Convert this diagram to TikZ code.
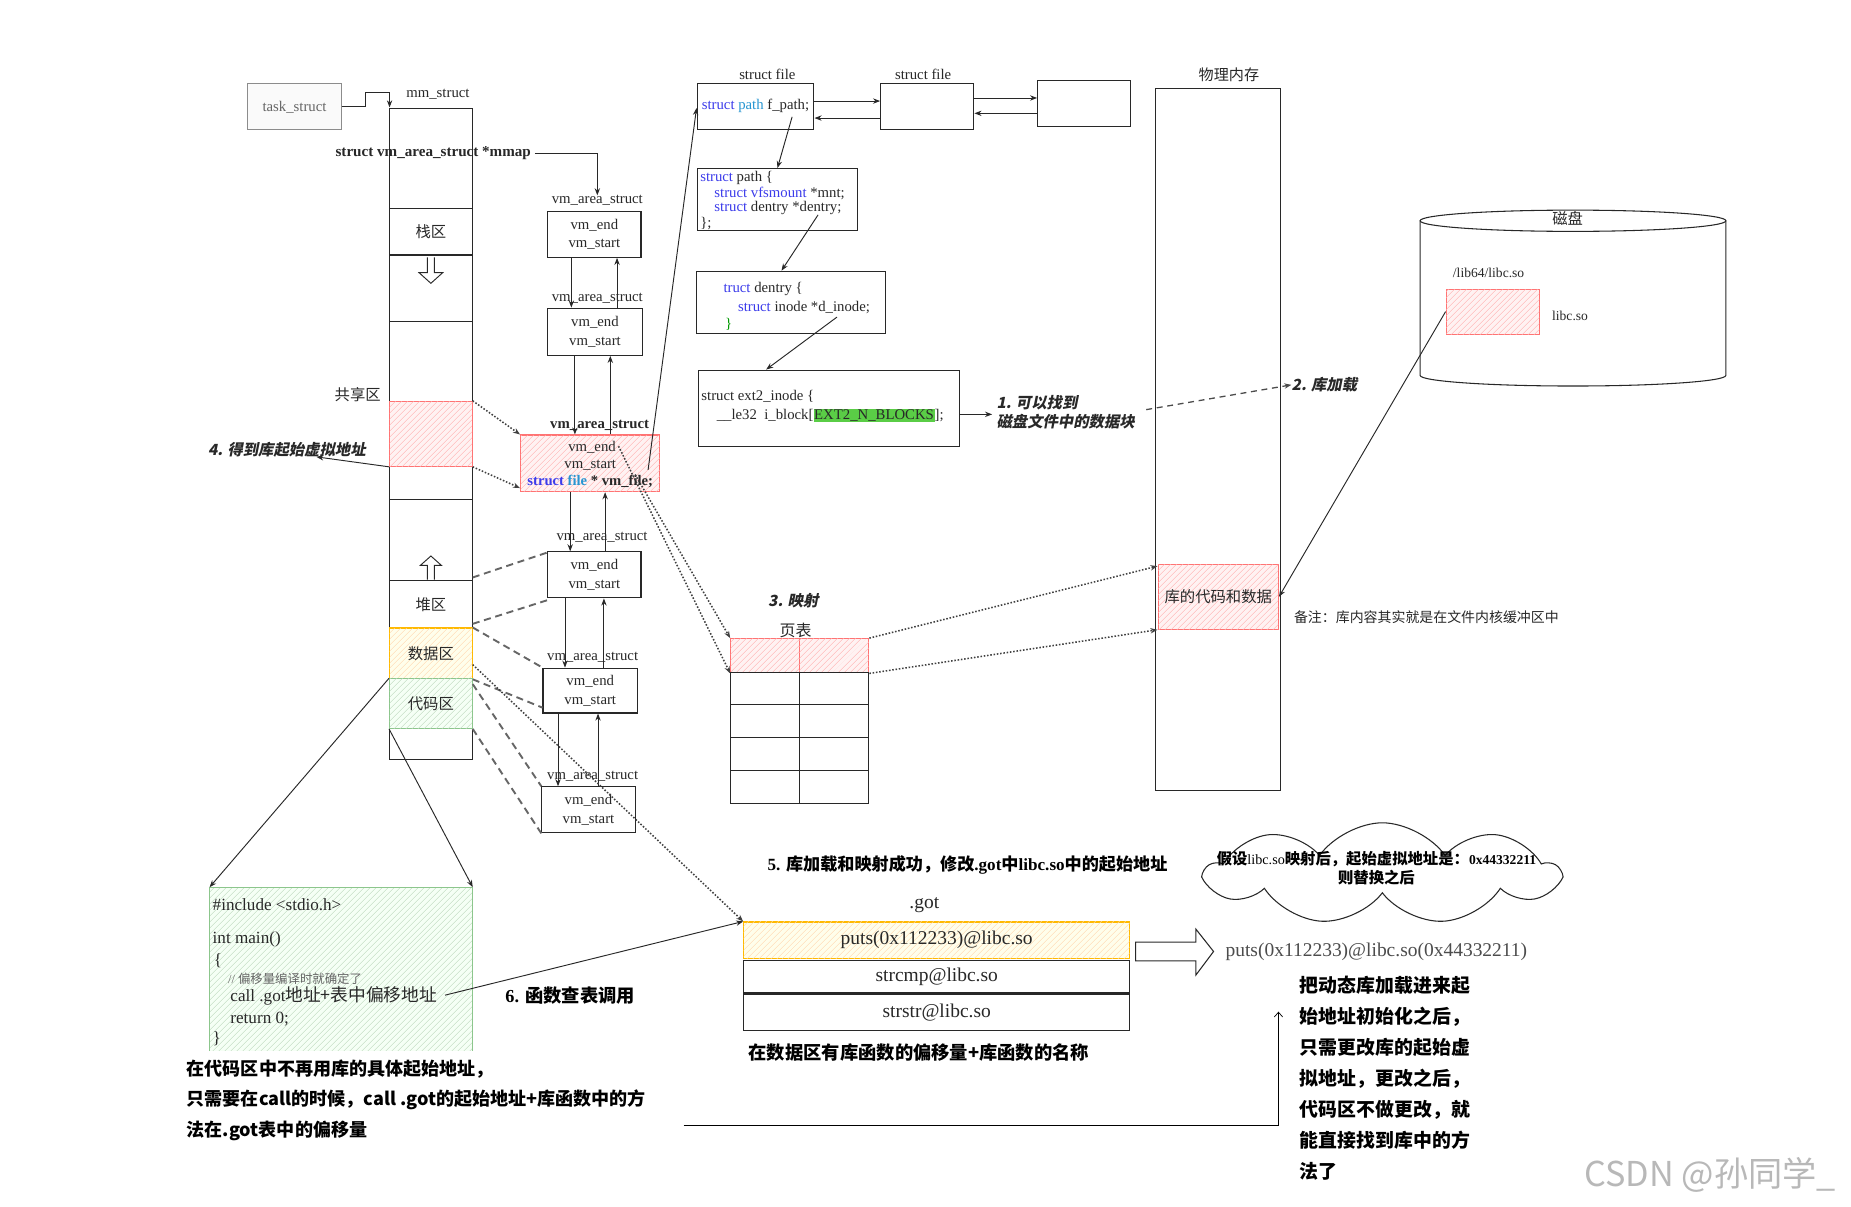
\documentclass[tikz,border=0pt]{standalone}
\usepackage{fontspec}
\setmainfont{Liberation Serif}
\newfontfamily\cjk{Noto Sans CJK SC}
\newfontfamily\cjksl{Noto Sans CJK SC}[FakeSlant=0.2]
\usetikzlibrary{arrows.meta,patterns.meta,shapes.symbols}
\definecolor{kw}{RGB}{60,60,235}
\definecolor{ty}{RGB}{40,150,210}
\definecolor{hl}{RGB}{90,205,70}
\definecolor{ink}{RGB}{40,40,40}
\newcommand\hlbox[1]{{\setlength{\fboxsep}{0.6pt}\colorbox{hl}{#1}}}
\begin{document}
\begin{tikzpicture}[x=1pt,y=-1pt,
 bx/.style={draw=ink, line width=0.9pt, inner sep=0pt},
 sr/.style={font=\fontsize{12.5}{15}\selectfont, text=ink, inner sep=0pt},
 vmt/.style={font=\fontsize{12.5}{16}\selectfont, text=ink, align=center},
 cj/.style={font=\cjk\fontsize{13}{15}\selectfont, text=ink, inner sep=0pt},
 bcj/.style={font=\cjk\bfseries\fontsize{15.3}{26}\selectfont, text=black, inner sep=0pt, align=left},
 slb/.style={font=\cjksl\bfseries\fontsize{13}{16}\selectfont, text=ink, inner sep=0pt, align=left},
 arr/.style={draw=ink, line width=0.8pt, -{Stealth[length=6pt,width=4.5pt]}},
 dsh/.style={draw=black!60, line width=1.6pt, dash pattern=on 6pt off 4pt},
 dtt/.style={draw=black!75, line width=1.3pt, dash pattern=on 1.3pt off 1.5pt},
 redh/.style={draw=red!55, line width=0.9pt, fill=red!5, postaction={pattern={Lines[angle=45,distance=4pt,line width=0.5pt]}, pattern color=red!30}},
 yelh/.style={draw=orange!55!yellow, line width=0.9pt, fill=yellow!8, postaction={pattern={Lines[angle=45,distance=4pt,line width=0.5pt]}, pattern color=orange!30}},
 grnh/.style={draw=green!50!black!45, line width=0.9pt, fill=green!4, postaction={pattern={Lines[angle=45,distance=4pt,line width=0.5pt]}, pattern color=green!40!black!25}},
]
\useasboundingbox (0,0) rectangle (1568,1022);
\fill[white] (0,0) rectangle (1568,1022);

% ---------- task_struct / mm_struct column ----------
\node[bx, draw=black!45, fill=black!2, minimum width=79pt, minimum height=39pt, font=\fontsize{12.5}{15}\selectfont, text=black!60] (task) at (249.5,90.5) {task\_struct};
\node[bx, minimum width=70pt, minimum height=551pt] (col) at (365,367.5) {};
\coordinate (mmtop) at (330,91);
\coordinate (mmbend) at (330,78);
\draw[arr] (task.east) -- ++(20,0) |- (mmbend) -- (mmtop);
\node[sr] (mml) at (371,80) {mm\_struct};
\foreach \yy in {177,216,272,423} \draw[draw=ink, line width=0.9pt] (330,\yy) -- (400,\yy);
\node[bx, minimum width=70pt, minimum height=39pt, cj] (stack) at (365,196.5) {栈区};
\node[bx, redh, minimum width=70pt, minimum height=55pt] (shared) at (365,367.5) {};
\node[bx, minimum width=70pt, minimum height=40pt, cj] (heap) at (365,512) {堆区};
\node[bx, yelh, minimum width=70pt, minimum height=43pt, cj] (data) at (365,553.5) {数据区};
\node[bx, grnh, minimum width=70pt, minimum height=42pt, cj] (code) at (365,596) {代码区};
\draw[draw=ink, line width=0.8pt] (362,218) -- (362,231) -- (355,231) -- (365,240) -- (375,231) -- (368,231) -- (368,218);
\draw[draw=ink, line width=0.8pt] (362,491) -- (362,479) -- (356,479) -- (365,471) -- (374,479) -- (368,479) -- (368,491);
\node[cj] (gx) at (303,334) {共享区};
\node[font=\bfseries\fontsize{12.8}{15}\selectfont, text=ink, inner sep=0pt] (mmap) at (367,130) {struct vm\_area\_struct *mmap};

% ---------- vm_area_struct chain ----------
\node[sr] (lv1) at (506,170) {vm\_area\_struct};
\node[bx, minimum width=79pt, minimum height=39pt, vmt] (vm1) at (503.5,198.5) {vm\_end\\vm\_start};
\node[sr] (lv2) at (506,253) {vm\_area\_struct};
\node[bx, minimum width=80pt, minimum height=40pt, vmt] (vm2) at (504,281) {vm\_end\\vm\_start};
\node[sr, font=\bfseries\fontsize{12.5}{15}\selectfont] (lv3) at (508,360) {vm\_area\_struct};
\node[bx, redh, minimum width=118pt, minimum height=48pt] (vm3) at (500,392.5) {};
\node[sr] (v3a) at (501.5,379) {vm\_end};
\node[sr] (v3b) at (500,394) {vm\_start};
\node[sr, font=\bfseries\fontsize{12.4}{15}\selectfont] (v3c) at (500,408) {{\color{kw}struct} {\color{ty}file} * vm\_file;};
\node[sr] (lv4) at (510,455) {vm\_area\_struct};
\node[bx, minimum width=79pt, minimum height=39pt, vmt] (vm4) at (503.5,487) {vm\_end\\vm\_start};
\node[sr] (lv5) at (502,557) {vm\_area\_struct};
\node[bx, minimum width=80pt, minimum height=38pt, vmt] (vm5) at (500,585) {vm\_end\\vm\_start};
\node[sr] (lv6) at (502,658) {vm\_area\_struct};
\node[bx, minimum width=79pt, minimum height=39pt, vmt] (vm6) at (498.5,686) {vm\_end\\vm\_start};

\coordinate (mmapA) at (453,130);
\draw[arr] (mmapA) -| (lv1.north);
\draw[arr] ([xshift=-19.5pt]vm1.south) -- ([xshift=-20pt]vm2.north);
\draw[arr] ([xshift=18.7pt]vm2.north) -- ([xshift=19.2pt]vm1.south);
\draw[arr] ([xshift=-17pt]vm2.south) -- ([xshift=-13pt]vm3.north);
\draw[arr] ([xshift=17pt]vm3.north) -- ([xshift=13pt]vm2.south);
\draw[arr] ([xshift=-17pt]vm3.south) -- ([xshift=-20.5pt]vm4.north);
\draw[arr] ([xshift=9.1pt]vm4.north) -- ([xshift=12.6pt]vm3.south);
\draw[arr] ([xshift=-24.9pt]vm4.south) -- ([xshift=-21.4pt]vm5.north);
\draw[arr] ([xshift=11.6pt]vm5.north) -- ([xshift=8.1pt]vm4.south);
\draw[arr] ([xshift=-27.3pt]vm5.south) -- ([xshift=-25.8pt]vm6.north);
\draw[arr] ([xshift=8.1pt]vm6.north) -- ([xshift=6.6pt]vm5.south);

% column -> vm areas
\draw[dtt, -{Stealth[length=6pt,width=4.5pt]}] (shared.north east) -- (vm3.north west);
\draw[dtt, -{Stealth[length=6pt,width=4.5pt]}] (shared.south east) -- ([yshift=3.5pt]vm3.south west);
\draw[dsh] ([yshift=2.4pt]heap.north east) -- ([yshift=-1pt]vm4.north west);
\draw[dsh] ([yshift=4pt]heap.south east) -- ([yshift=-1.5pt]vm4.south west);
\draw[dsh] (data.north east) -- (vm5.north west);
\draw[dsh] (data.south east) -- ([yshift=5pt]vm5.south west);
\draw[dsh] ([yshift=-5pt]code.north east) -- (vm6.north west);
\draw[dsh] (code.south east) -- (vm6.south west);

% 4.
\node[slb] (t4) at (243,381) {4. 得到库起始虚拟地址};
\coordinate (t4end) at (268,387);
\draw[arr] (shared.south west) -- (t4end);

% ---------- struct file chain ----------
\node[sr] (lsf1) at (650,63) {struct file};
\node[bx, minimum width=99pt, minimum height=39pt, font=\fontsize{12.5}{15}\selectfont, text=ink] (sf1) at (640,90) {{\color{kw}struct} {\color{ty}path} f\_path;};
\node[sr] (lsf2) at (782,63) {struct file};
\node[bx, minimum width=79pt, minimum height=39pt] (sf2) at (785.5,90) {};
\node[bx, minimum width=79pt, minimum height=39pt] (sf3) at (918.5,87.5) {};
\draw[arr] ([yshift=4.4pt]sf1.east) -- ([yshift=4.4pt]sf2.west);
\draw[arr] ([yshift=-10pt]sf2.west) -- ([yshift=-10pt]sf1.east);
\draw[arr] ([yshift=7pt]sf2.east) -- ([yshift=4.5pt]sf3.west);
\draw[arr] ([yshift=-8.5pt]sf3.west) -- ([yshift=-6pt]sf2.east);
\coordinate (vf) at (549,398);
\draw[arr] (vf) -- ([yshift=-1.5pt]sf1.west);

\node[bx, minimum width=136pt, minimum height=52.5pt] (sp) at (658.6,169) {};
\node[sr, anchor=west] (sp1) at (593,151) {{\color{kw}struct} path \{};
\node[sr, anchor=west] (sp2) at (605,163.6) {{\color{kw}struct vfsmount} *mnt;};
\node[sr, anchor=west] (sp3) at (605,176) {{\color{kw}struct} dentry *dentry;};
\node[sr, anchor=west] (sp4) at (593,189) {\};};
\coordinate (fpath) at (671,99);
\draw[arr] (fpath) -- (sp.north);

\node[bx, minimum width=160.5pt, minimum height=52.5pt] (de) at (670,256) {};
\node[sr, anchor=west] (de1) at (612.7,245) {{\color{kw}truct} dentry \{};
\node[sr, anchor=west] (de2) at (625,260.6) {{\color{kw}struct} inode *d\_inode;};
\node[sr, anchor=west, text=green!60!black] (de3) at (614,275) {\}};
\coordinate (dptr) at (693,182);
\draw[arr] (dptr) -- ([xshift=-8pt]de.north);

\node[bx, minimum width=221pt, minimum height=65pt] (ex) at (702,346) {};
\node[sr, anchor=west] (ex1) at (594,335.6) {struct ext2\_inode \{};
\node[sr, anchor=west] (ex2) at (607,351.7) {\_\_le32\ \ i\_block[\hlbox{EXT2\_N\_BLOCKS}];};
\coordinate (iptr) at (709,268.6);
\draw[arr] (iptr) -- ([xshift=-53pt]ex.north);
\node[slb, anchor=west] (t1) at (844,349.5) {1. 可以找到\\磁盘文件中的数据块};
\draw[arr] ([yshift=-5pt]ex.east) -- ++(27.5,0);

% ---------- physical memory / disk ----------
\node[font=\cjk\fontsize{12.8}{15}\selectfont, text=ink, inner sep=0pt] (lphys) at (1041,63) {物理内存};
\node[bx, minimum width=106pt, minimum height=595pt] (phys) at (1032,372.5) {};
\node[bx, redh, minimum width=102pt, minimum height=55pt, cj] (libm) at (1032,505.5) {库的代码和数据};
\node[font=\cjk\fontsize{11.8}{14}\selectfont, text=ink, inner sep=0pt, anchor=west] (note) at (1096,523) {备注：库内容其实就是在文件内核缓冲区中};

\draw[draw=ink, line width=0.9pt] (1203,187) -- (1203,318) arc[start angle=180, end angle=360, x radius=129.5pt, y radius=9pt] -- (1462,187);
\draw[draw=ink, line width=0.9pt, fill=white] (1332.5,187) ellipse [x radius=129.5pt, y radius=9pt];
\node[cj] (ldisk) at (1328,185) {磁盘};
\node[sr, font=\fontsize{11.5}{14}\selectfont] (lpath) at (1261,231) {/lib64/libc.so};
\node[bx, redh, minimum width=79pt, minimum height=38pt] (libd) at (1264.5,264) {};
\node[sr, font=\fontsize{11.5}{14}\selectfont] (llibc) at (1330,268) {libc.so};
\draw[arr] (libd.west) -- (libm.east);

\coordinate (d1) at (971,347);
\node[slb, anchor=west] (t2) at (1094,326) {2. 库加载};
\draw[draw=black!70, line width=1.1pt, dash pattern=on 5pt off 4pt, -{Stealth[length=6pt,width=4.5pt]}] (d1) -- (t2.west);

% ---------- page table ----------
\node[slb] (t3) at (672,509) {3. 映射};
\node[bx, redh, minimum width=58pt, minimum height=29pt] (ptA) at (648,555.5) {};
\node[bx, redh, minimum width=59pt, minimum height=29pt] (ptB) at (706.5,555.5) {};
\node[bx, minimum width=117pt, minimum height=111pt] (ptab) at (677.5,625.5) {};
\foreach \yy in {597,625,653} \draw[draw=ink, line width=0.9pt] (619,\yy) -- (736,\yy);
\draw[draw=ink, line width=0.9pt] (677,570) -- (677,681);
\node[font=\cjk\fontsize{13.5}{15}\selectfont, text=ink, inner sep=0pt] (lpt) at (674,534) {页表};
\coordinate (va) at (524,378);
\coordinate (vb) at (538,402);
\draw[dtt, -{Stealth[length=6pt,width=4.5pt]}] (va) -- (ptA.south west);
\draw[dtt, -{Stealth[length=6pt,width=4.5pt]}] (vb) -- (ptA.north west);
\draw[dtt, -{Stealth[length=6pt,width=4.5pt]}] (ptB.north east) -- ([yshift=-2pt]libm.north west);
\draw[dtt, -{Stealth[length=6pt,width=4.5pt]}] (ptB.south east) -- (libm.south west);

% ---------- .got ----------
\node[font=\bfseries\fontsize{14.5}{16}\selectfont, text=black, inner sep=0pt, anchor=west] (t5) at (650,733) {5. {\cjk 库加载和映射成功，修改}.got{\cjk 中}libc.so{\cjk 中的起始地址}};
\node[sr, font=\fontsize{16.5}{18}\selectfont] (lgot) at (783,767) {.got};
\node[bx, yelh, minimum width=327pt, minimum height=31pt, font=\fontsize{16.5}{18}\selectfont, text=ink] (g1) at (793.5,796.5) {puts(0x112233)@libc.so};
\node[bx, minimum width=327pt, minimum height=27pt, font=\fontsize{16.5}{18}\selectfont, text=ink] (g2) at (793.5,827.5) {strcmp@libc.so};
\node[bx, minimum width=327pt, minimum height=31pt, font=\fontsize{16.5}{18}\selectfont, text=ink] (g3) at (793.5,857.5) {strstr@libc.so};
\node[font=\cjk\bfseries\fontsize{15.5}{18}\selectfont, text=black, inner sep=0pt, anchor=west] (tdata) at (634,892) {在数据区有库函数的偏移量+库函数的名称};
\draw[dtt, -{Stealth[length=6pt,width=4.5pt]}] ([yshift=-9.5pt]data.east) -- (g1.north west);

% hollow arrow & replaced entry
\draw[draw=ink, line width=0.9pt, fill=white] (962,798) -- (1013,798) -- (1013,787) -- (1028,806) -- (1013,826) -- (1013,814) -- (962,814) -- cycle;
\node[font=\fontsize{16.5}{18}\selectfont, text=black!70, inner sep=0pt, anchor=west] (puts2) at (1038,806) {puts(0x112233)@libc.so(0x44332211)};

% cloud
\node[cloud, draw=ink, line width=0.9pt, cloud puffs=9, cloud puff arc=110, aspect=3.6, minimum width=298pt, minimum height=86pt] (cloud) at (1171,740) {};
\node[font=\cjk\bfseries\fontsize{13}{15}\selectfont, text=black, inner sep=0pt] (cl1) at (1166,728) {假设{\rmfamily\mdseries\fontsize{12}{15}\selectfont libc.so}映射后，起始虚拟地址是：{\rmfamily\fontsize{11.5}{15}\selectfont 0x44332211}};
\node[font=\cjk\bfseries\fontsize{13}{15}\selectfont, text=black, inner sep=0pt] (cl2) at (1166,743) {则替换之后};

% right paragraph + bracket
\node[font=\cjk\bfseries\fontsize{16}{26.2}\selectfont, text=black, inner sep=0pt, align=left, anchor=west] (tright) at (1101,913.5) {把动态库加载进来起\\始地址初始化之后，\\只需更改库的起始虚\\拟地址，更改之后，\\代码区不做更改，就\\能直接找到库中的方\\法了};
\coordinate (brA) at (579,953);
\coordinate (brB) at (1083,857);
\draw[draw=black, line width=0.6pt, -{Straight Barb[length=4pt,width=7pt]}] (brA) -| (brB);

% ---------- code box ----------
\node[grnh, draw=none, minimum width=222pt, minimum height=138pt] (cb) at (289,821) {};
\draw[draw=green!50!black!45, line width=0.9pt] (cb.south west) -- (cb.north west) -- (cb.north east) -- (cb.south east);
\node[font=\fontsize{14.5}{16}\selectfont, text=ink, inner sep=0pt, anchor=west] (c1) at (180,766) {\#include <stdio.h>};
\node[font=\fontsize{14.5}{16}\selectfont, text=ink, inner sep=0pt, anchor=west] (c2) at (180,796) {int main()};
\node[font=\fontsize{14.5}{16}\selectfont, text=ink, inner sep=0pt, anchor=west] (c3) at (181,814) {\{};
\node[font=\fontsize{10.5}{12}\selectfont, text=black!60, inner sep=0pt, anchor=west] (c4) at (193,829) {// {\cjk 偏移量编译时就确定了}};
\node[font=\fontsize{14.5}{16}\selectfont, text=ink, inner sep=0pt, anchor=west] (c5) at (195,844) {call .got{\cjk\fontsize{15}{16}\selectfont 地址+表中偏移地址}};
\node[font=\fontsize{14.5}{16}\selectfont, text=ink, inner sep=0pt, anchor=west] (c6) at (195,863) {return 0;};
\node[font=\fontsize{14.5}{16}\selectfont, text=ink, inner sep=0pt, anchor=west] (c7) at (180,880) {\}};
\draw[arr] (code.north west) -- (cb.north west);
\draw[arr] (code.south west) -- (cb.north east);
\coordinate (cl) at (377,843);
\draw[arr] (cl) -- (g1.north west);
\node[font=\bfseries\fontsize{15.5}{18}\selectfont, text=black, inner sep=0pt, anchor=west] (t6) at (428,843) {6. {\cjk 函数查表调用}};

\node[bcj, anchor=west] (tleft) at (158,932) {在代码区中不再用库的具体起始地址，\\只需要在call的时候，call .got的起始地址+库函数中的方\\法在.got表中的偏移量};

% watermark
\node[font=\cjk\fontsize{29}{32}\selectfont, text=black!28, inner sep=0pt, anchor=west] (wm) at (1342,995) {CSDN @孙同学\_};
\end{tikzpicture}
\end{document}
